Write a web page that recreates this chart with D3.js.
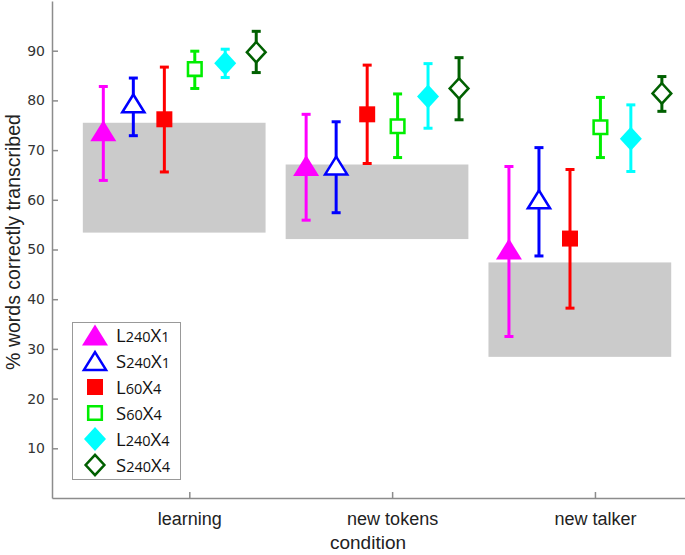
<!DOCTYPE html>
<html>
<head>
<meta charset="utf-8">
<script src="https://cdn.jsdelivr.net/npm/d3@7"></script>
<style>
  body { margin: 0; background: #fff; }
  svg { display: block; }
  .axis path, .axis line { stroke: #8c8c8c; stroke-width: 1.5; }
</style>
</head>
<body>
<svg id="main-svg" width="685" height="555"></svg>
<script>
// conditions along the x axis
let conditions = ["learning", "new tokens", "new talker"];
// series shown in the legend
let series = ["L240X1", "S240X1", "L60X4", "S60X4", "L240X4", "S240X4"];

// mean % per series, one value per condition
let meanL240X1 = [73.9, 66.9, 50.1];
let meanS240X1 = [79.4, 66.9, 60.1];
let meanL60X4 = [76.2, 77.2, 52.2];
let meanS60X4 = [86.3, 74.8, 74.6];
let meanL240X4 = [87.5, 80.8, 72.3];
let meanS240X4 = [89.7, 82.4, 81.4];

// upper / lower ends of error bars
let upL240X1 = [82.8, 77.2, 66.7];
let upS240X1 = [84.5, 75.7, 70.5];
let upL60X4 = [86.7, 87.1, 66.1];
let upS60X4 = [89.9, 81.3, 80.6];
let upL240X4 = [90.3, 87.4, 79.1];
let upS240X4 = [93.9, 88.6, 84.8];

let loL240X1 = [63.9, 55.9, 32.5];
let loS240X1 = [72.9, 57.4, 48.7];
let loL60X4 = [65.6, 67.3, 38.2];
let loS60X4 = [82.4, 68.5, 68.5];
let loL240X4 = [84.6, 74.4, 65.7];
let loS240X4 = [85.6, 76.1, 77.8];

// grey background ranges per condition
let boxTop = [75.5, 67.1, 47.4];
let boxBottom = [53.4, 52.1, 28.4];

let yTicks = [10, 20, 30, 40, 50, 60, 70, 80, 90];

let means = [meanL240X1, meanS240X1, meanL60X4, meanS60X4, meanL240X4, meanS240X4];
let ups = [upL240X1, upS240X1, upL60X4, upS60X4, upL240X4, upS240X4];
let los = [loL240X1, loS240X1, loL60X4, loS60X4, loL240X4, loS240X4];

let colors = ["#ff00ff", "#0000ff", "#ff0000", "#00ee00", "#00ffff", "#006000"];
let shapes = ["tri", "tri", "sq", "sq", "dia", "dia"];
let filled = [true, false, true, false, true, false];
let offsets = [-0.424, -0.276, -0.123, 0.027, 0.177, 0.330]; // within-group shift (x units)

let svg = d3.select("#main-svg");

let x = d3.scaleLinear().domain([0.323, 3.444]).range([52, 685]);
let y = d3.scaleLinear().domain([0, 100]).range([498, 1]);

let boxLayer = svg.append("g");
let axisLayer = svg.append("g");
let barLayer = svg.append("g");
let legendLayer = svg.append("g");

// grey boxes
boxLayer.selectAll("rect")
    .data(conditions)
    .enter().append("rect")
    .attr("x", function (d, i) { return x(i + 1 - 0.525); })
    .attr("width", function (d, i) { return x(i + 1 + 0.376) - x(i + 1 - 0.525); })
    .attr("y", function (d, i) { return y(boxTop[i]); })
    .attr("height", function (d, i) { return y(boxBottom[i]) - y(boxTop[i]); })
    .style("fill", "#cbcbcb");

// axes
let yAxis = d3.axisLeft(y).tickValues(yTicks).tickSize(-6).tickSizeOuter(0).tickPadding(7);
axisLayer.append("g")
    .attr("class", "axis")
    .attr("transform", "translate(52,0)")
    .call(yAxis)
    .call(function (g) {
        g.selectAll("text").style("font-family", "DejaVu Sans").style("font-size", "14px").style("fill", "#333");
    });

let xAxis = d3.axisBottom(x).tickValues([1, 2, 3]).tickFormat(function (d) { return conditions[d - 1]; })
    .tickSize(-6).tickSizeOuter(0).tickPadding(14);
axisLayer.append("g")
    .attr("class", "axis")
    .attr("transform", "translate(0,498)")
    .call(xAxis)
    .call(function (g) {
        g.selectAll("text").style("font-family", "Liberation Sans").style("font-size", "18px").style("fill", "#222");
    });

axisLayer.append("text")
    .attr("x", 368).attr("y", 549)
    .style("text-anchor", "middle")
    .style("font-family", "Liberation Sans").style("font-size", "19px").style("fill", "#222")
    .text("condition");

axisLayer.append("text")
    .attr("transform", "rotate(-90)")
    .attr("x", -242).attr("y", 20)
    .style("text-anchor", "middle")
    .style("font-family", "Liberation Sans").style("font-size", "19.5px").style("fill", "#222")
    .text("% words correctly transcribed");

// marker path, centred on 0,0
function markerPath(shape) {
    if (shape == "tri") return "M0,-10.5L13,10.5L-13,10.5Z";
    if (shape == "sq") return "M-8,-8L8,-8L8,8L-8,8Z";
    return "M0,-12L11,0L0,12L-11,0Z";
}

function drawMarker(g, s, px, py) {
    let p = g.append("path")
        .attr("transform", "translate(" + px + "," + py + ")")
        .attr("d", markerPath(shapes[s]));
    if (filled[s]) {
        p.style("fill", colors[s]).style("stroke", "none");
    } else {
        p.style("fill", "#fff").style("stroke", colors[s]).style("stroke-width", 3)
         .attr("transform", "translate(" + px + "," + py + ") scale(0.85)");
    }
}

// error bars + markers
series.forEach(function (name, s) {
    conditions.forEach(function (c, i) {
        let cx = x(i + 1 + offsets[s]);
        let g = barLayer.append("g");
        g.append("line")
            .attr("x1", cx).attr("x2", cx)
            .attr("y1", y(los[s][i])).attr("y2", y(ups[s][i]))
            .style("stroke", colors[s]).style("stroke-width", 3);
        [los[s][i], ups[s][i]].forEach(function (v) {
            g.append("line")
                .attr("x1", cx - 4.5).attr("x2", cx + 4.5)
                .attr("y1", y(v)).attr("y2", y(v))
                .style("stroke", colors[s]).style("stroke-width", 3);
        });
        drawMarker(g, s, cx, y(means[s][i]));
    });
});

// legend
legendLayer.append("rect")
    .attr("x", 72.5).attr("y", 322.5)
    .attr("width", 108).attr("height", 157)
    .style("fill", "#fff").style("stroke", "#999").style("stroke-width", 1);

series.forEach(function (name, s) {
    let ly = 335 + s * 26;
    drawMarker(legendLayer, s, 95, ly);
    let t = legendLayer.append("text")
        .attr("x", 116).attr("y", ly + 6.5)
        .style("font-family", "Open Sans").style("font-size", "18px").style("fill", "#111");
    // digits drawn smaller, like old-style figures
    name.split(/(\d+)/).forEach(function (part) {
        if (part == "") return;
        let isNum = /\d/.test(part);
        t.append("tspan")
            .style("font-size", isNum ? "14.5px" : "18.5px")
            .text(part);
    });
});
</script>
</body>
</html>
